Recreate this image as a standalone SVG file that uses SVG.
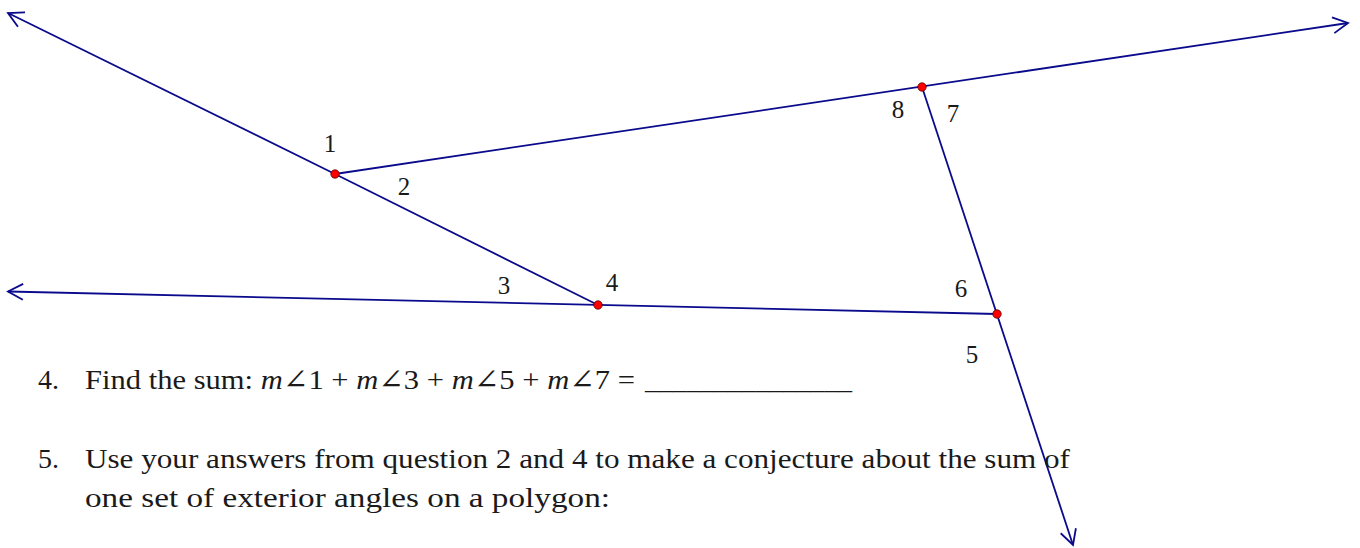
<svg xmlns="http://www.w3.org/2000/svg" width="1360" height="548" viewBox="0 0 1360 548">
<style>
.ln{stroke:#0a0a8c;stroke-width:1.8;fill:none}
.pt{fill:#ff0000;stroke:#5a0000;stroke-width:0.8}
.lbl{font-family:"Liberation Serif","DejaVu Serif",serif;font-size:25px;fill:#1a1a1a;text-anchor:middle}
.q{font-family:"Liberation Serif","DejaVu Serif",serif;font-size:28px;fill:#1a1a1a}
</style>
<defs>
<marker id="arr" markerUnits="userSpaceOnUse" markerWidth="40" markerHeight="40" viewBox="-20 -20 40 40" refX="0" refY="0" orient="auto">
<path d="M-15,-8 L0,0 L-15,8" fill="none" stroke="#0a0a8c" stroke-width="1.8"/>
</marker>
</defs>
<rect width="1360" height="548" fill="#ffffff"/>
<g id="connectors">
<line class="ln" x1="335" y1="174" x2="8" y2="13" marker-end="url(#arr)"/>
<line class="ln" x1="335" y1="174" x2="598" y2="305"/>
<line class="ln" x1="335" y1="174" x2="1348" y2="23" marker-end="url(#arr)"/>
<line class="ln" x1="997" y1="314" x2="8" y2="291.5" marker-end="url(#arr)"/>
<line class="ln" x1="922" y1="87" x2="1073" y2="545" marker-end="url(#arr)"/>
</g>
<g id="point-A"><circle class="pt" cx="335" cy="174" r="4.2"/></g>
<g id="point-B"><circle class="pt" cx="922" cy="87" r="4.2"/></g>
<g id="point-C"><circle class="pt" cx="997" cy="314" r="4.2"/></g>
<g id="point-D"><circle class="pt" cx="598" cy="305" r="4.2"/></g>
<g id="angle-labels">
<text class="lbl" x="330" y="152">1</text>
<text class="lbl" x="404" y="195">2</text>
<text class="lbl" x="504" y="294">3</text>
<text class="lbl" x="612" y="291">4</text>
<text class="lbl" x="972" y="363">5</text>
<text class="lbl" x="961" y="297">6</text>
<text class="lbl" x="953" y="122">7</text>
<text class="lbl" x="898" y="118">8</text>
</g>
<g id="questions">
<text class="q" x="38" y="389">4.</text>
<text class="q" x="85" y="389" textLength="550" lengthAdjust="spacingAndGlyphs">Find the sum: <tspan font-style="italic">m</tspan>∠1 + <tspan font-style="italic">m</tspan>∠3 + <tspan font-style="italic">m</tspan>∠5 + <tspan font-style="italic">m</tspan>∠7 =</text>
<text class="q" x="645" y="389" textLength="207" lengthAdjust="spacingAndGlyphs">_______________</text>
<text class="q" x="38" y="468">5.</text>
<text class="q" x="85" y="468" textLength="985" lengthAdjust="spacingAndGlyphs">Use your answers from question 2 and 4 to make a conjecture about the sum of</text>
<text class="q" x="85" y="507" textLength="525" lengthAdjust="spacingAndGlyphs">one set of exterior angles on a polygon:</text>
</g>
</svg>
